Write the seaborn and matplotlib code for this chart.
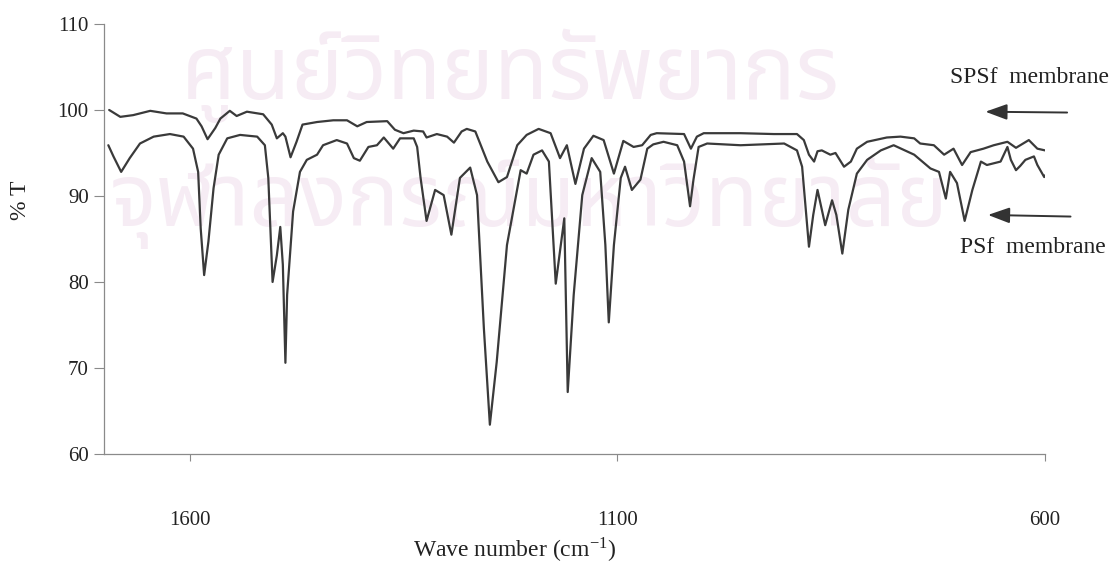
import matplotlib
matplotlib.use("Agg")
import matplotlib.pyplot as plt
import seaborn as sns
import pandas as pd

# ---- data ----
spsf_wn = [1694, 1681, 1666, 1646, 1627, 1608, 1592, 1586, 1579, 1570, 1564, 1553, 1545, 1533,
           1514, 1504, 1498, 1491, 1488, 1482, 1475, 1468, 1451, 1432, 1416, 1404, 1393, 1369,
           1360, 1350, 1338, 1327, 1323, 1311, 1299, 1291, 1282, 1276, 1266, 1252, 1239, 1229,
           1217, 1206, 1192, 1178, 1170, 1167, 1159, 1149, 1139, 1128, 1116, 1104, 1093, 1081,
           1071, 1061, 1054, 1022, 1014, 1007, 999, 956, 917, 890, 882, 876, 870, 866, 861, 851,
           845, 835, 827, 820, 808, 785, 769, 753, 746, 730, 718, 707, 697, 687, 672, 660, 644,
           634, 619, 609, 600]
spsf_t = [100.0, 99.2, 99.4, 99.9, 99.6, 99.6, 99.0, 98.1, 96.6, 97.9, 99.0, 99.9, 99.3, 99.8,
          99.5, 98.3, 96.7, 97.3, 96.9, 94.5, 96.3, 98.3, 98.6, 98.8, 98.8, 98.1, 98.6, 98.7,
          97.7, 97.3, 97.6, 97.5, 96.8, 97.2, 96.9, 96.2, 97.5, 97.8, 97.5, 94.0, 91.6, 92.2,
          95.9, 97.1, 97.8, 97.3, 95.2, 94.4, 95.9, 91.4, 95.5, 97.0, 96.5, 92.6, 96.4, 95.7,
          95.9, 97.1, 97.3, 97.2, 95.5, 96.9, 97.3, 97.3, 97.2, 97.2, 96.5, 94.8, 94.0, 95.2,
          95.3, 94.8, 95.0, 93.4, 94.0, 95.5, 96.3, 96.8, 96.9, 96.7, 96.1, 95.9, 94.8, 95.5,
          93.6, 95.1, 95.5, 95.9, 96.3, 95.6, 96.5, 95.5, 95.3]

psf_wn = [1695, 1689, 1680, 1670, 1658, 1642, 1623, 1607, 1596, 1590, 1587, 1583, 1578, 1572,
          1566, 1556, 1541, 1521, 1512, 1508, 1503, 1498, 1494, 1491, 1488, 1486, 1479, 1471,
          1463, 1451, 1444, 1428, 1416, 1408, 1401, 1391, 1381, 1373, 1362, 1354, 1338, 1334,
          1330, 1323, 1313, 1303, 1294, 1284, 1272, 1264, 1256, 1249, 1241, 1229, 1213, 1206,
          1198, 1188, 1180, 1172, 1162, 1158, 1151, 1141, 1130, 1120, 1114, 1110, 1104, 1096,
          1091, 1083, 1073, 1065, 1058, 1046, 1030, 1022, 1015, 1011, 1005, 995, 956, 905, 890,
          884, 876, 871, 866, 857, 849, 844, 837, 830, 820, 808, 792, 777, 753, 734, 724, 716,
          711, 703, 694, 685, 675, 668, 652, 644, 640, 634, 629, 623, 613, 609, 601, 600]
psf_t = [95.9, 94.6, 92.8, 94.4, 96.1, 96.9, 97.2, 96.9, 95.5, 92.8, 86.2, 80.8, 84.7, 90.9,
         94.8, 96.7, 97.1, 96.9, 95.9, 92.1, 80.0, 83.1, 86.4, 82.0, 70.6, 78.5, 88.2, 92.8,
         94.2, 94.8, 95.9, 96.5, 96.1, 94.4, 94.1, 95.7, 95.9, 96.8, 95.5, 96.7, 96.7, 95.7,
         92.1, 87.1, 90.7, 90.1, 85.5, 92.1, 93.3, 90.1, 74.6, 63.4, 70.7, 84.3, 93.0, 92.6,
         94.8, 95.3, 94.0, 79.8, 87.4, 67.2, 78.5, 90.1, 94.4, 92.8, 84.3, 75.3, 84.3, 92.1,
         93.4, 90.7, 91.9, 95.5, 96.0, 96.3, 95.9, 94.0, 88.8, 91.9, 95.7, 96.1, 95.9, 96.1, 95.3,
         93.4, 84.1, 87.8, 90.7, 86.6, 89.5, 87.8, 83.3, 88.4, 92.6, 94.2, 95.3, 95.9, 94.8, 93.2,
         92.8, 89.7, 92.8, 91.5, 87.1, 90.7, 94.0, 93.6, 94.0, 95.7, 94.2, 93.0, 93.5, 94.2, 94.6,
         93.6, 92.2, 92.4]

y_ticks = [60, 70, 80, 90, 100, 110]
x_ticks = [1600, 1100, 600]
series_labels = ["SPSf  membrane", "PSf  membrane"]
watermark = ["ศูนย์วิทยทรัพยากร", "จุฬาลงกรณ์มหาวิทยาลัย"]

# ---- style ----
sns.set_theme(style="white")
plt.rcParams["font.family"] = ["Liberation Serif", "DejaVu Serif"]
plt.rcParams["mathtext.fontset"] = "stix"

fig = plt.figure(figsize=(11.2, 5.71), dpi=100)
ax = fig.add_axes([0.0929, 0.205, 0.8402, 0.753])
ax.set_facecolor("none")

# faint watermark behind everything (negative zorder -> drawn before the axes)
wm_family = ["Noto Sans Thai", "Noto Sans", "DejaVu Sans"]
fig.text(0.456, 0.868, watermark[0], fontsize=64, color="#f6ecf4", ha="center", va="center",
         family=wm_family, zorder=-5)
fig.text(0.472, 0.645, watermark[1], fontsize=63, color="#f6ecf4", ha="center", va="center",
         family=wm_family, zorder=-5)

line_color = "#3a3a3a"
df_s = pd.DataFrame({"wn": spsf_wn, "T": spsf_t})
df_p = pd.DataFrame({"wn": psf_wn, "T": psf_t})
sns.lineplot(data=df_s, x="wn", y="T", ax=ax, color=line_color, lw=1.6, estimator=None, sort=False)
sns.lineplot(data=df_p, x="wn", y="T", ax=ax, color=line_color, lw=1.6, estimator=None, sort=False)

ax.set_xlim(1700, 600)
ax.set_ylim(60, 110)
ax.set_yticks(y_ticks)
ax.set_xticks(x_ticks)

for s in ["top", "right"]:
    ax.spines[s].set_visible(False)
for s in ["left", "bottom"]:
    ax.spines[s].set_color("#8a8a8a")
    ax.spines[s].set_linewidth(0.9)

ax.tick_params(axis="y", direction="out", length=7, width=0.8, color="#8a8a8a",
               pad=4, labelsize=15, labelcolor="#222222", left=True)
ax.tick_params(axis="x", direction="out", length=5, width=0.8, color="#8a8a8a",
               pad=36, labelsize=15, labelcolor="#222222", bottom=True)

ax.set_ylabel("% T", fontsize=17, color="#222222")
ax.yaxis.set_label_coords(-0.078, 0.59)
ax.set_xlabel("Wave number (cm$^{\\mathregular{-1}}$)", fontsize=17, color="#222222")
ax.xaxis.set_label_coords(0.437, -0.19)

# series annotations with arrows
ax.text(711, 103.8, series_labels[0], fontsize=17, color="#222222", ha="left", va="center",
        clip_on=False)
ax.text(700, 84.0, series_labels[1], fontsize=17, color="#222222", ha="left", va="center",
        clip_on=False)
arrow_kw = dict(arrowstyle="-|>,head_length=1.1,head_width=0.4", color="#333333", lw=1.4)
ax.annotate("", xy=(673, 99.8), xytext=(571, 99.7), arrowprops=arrow_kw, annotation_clip=False)
ax.annotate("", xy=(670, 87.8), xytext=(567, 87.6), arrowprops=arrow_kw, annotation_clip=False)

fig.savefig("out.png", dpi=100, facecolor="white")
